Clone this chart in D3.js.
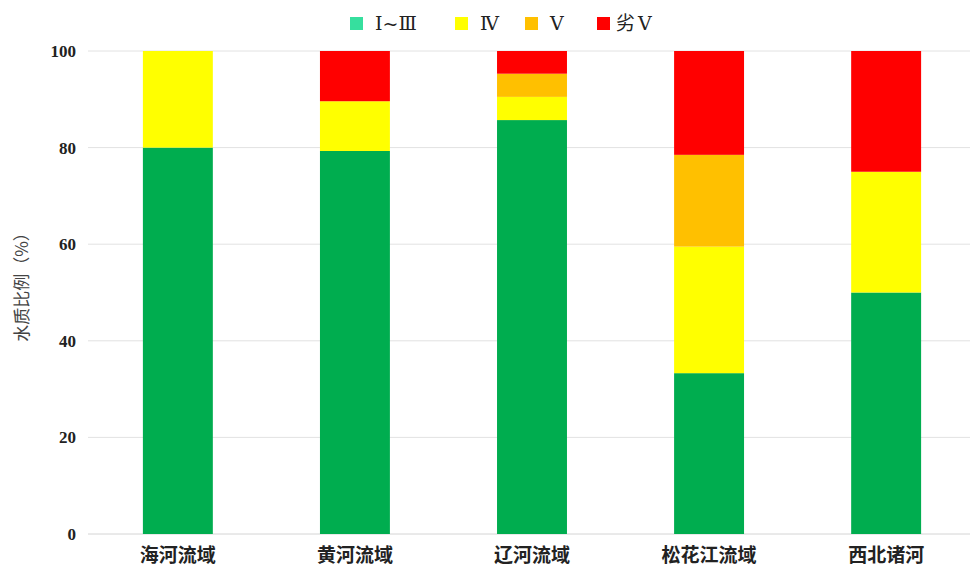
<!DOCTYPE html>
<html>
<head>
<meta charset="utf-8">
<script src="https://cdn.jsdelivr.net/npm/d3@7/dist/d3.min.js"></script>
<style>
  body { margin: 0; background: #fff; }
  svg { display: block; }
</style>
</head>
<body>
<svg id="chart" width="970" height="570"></svg>
<script>
// Stacked bar chart: water quality class share per basin.
const basins = ["海河流域", "黄河流域", "辽河流域", "松花江流域", "西北诸河"];
const classes = ["Ⅰ~Ⅲ", "Ⅳ", "Ⅴ", "劣Ⅴ"];
const grade1to3 = [80, 79.3, 85.7, 33.3, 50];
const grade4 = [20, 10.3, 4.8, 26.2, 25];
const grade5 = [0, 0, 4.8, 19.0, 0];
const grade5plus = [0, 10.4, 4.7, 21.5, 25];
const yTicks = [0, 20, 40, 60, 80, 100];

const barColors = ["#00ad4f", "#ffff00", "#ffc000", "#ff0000"];
const legendColors = ["#36df9e", "#ffff00", "#ffc000", "#ff0000"];

const svg = d3.select("#chart");
const margin = { left: 88, right: -6, top: 51, bottom: 36 };
const width = 970 - margin.left - margin.right;
const height = 570 - margin.top - margin.bottom;

const rows = basins.map((b, i) => ({
  basin: b,
  "Ⅰ~Ⅲ": grade1to3[i],
  "Ⅳ": grade4[i],
  "Ⅴ": grade5[i],
  "劣Ⅴ": grade5plus[i],
}));
const series = d3.stack().keys(classes)(rows);

const x = d3.scaleBand().domain(basins).range([0, width]).paddingInner(0.605).paddingOuter(0.31);
const y = d3.scaleLinear().domain([0, 100]).range([height, 0]);

const g = svg.append("g").attr("transform", `translate(${margin.left},${margin.top})`);

// Horizontal grid lines.
g.append("g")
  .selectAll("line")
  .data(yTicks)
  .join("line")
  .attr("x1", 0)
  .attr("x2", width)
  .attr("y1", (d) => y(d))
  .attr("y2", (d) => y(d))
  .attr("stroke", (d) => (d === 0 ? "#d4d4d4" : "#e2e2e2"))
  .attr("stroke-width", 1);

// Bars.
g.append("g")
  .selectAll("g")
  .data(series)
  .join("g")
  .attr("fill", (s, i) => barColors[i])
  .selectAll("rect")
  .data((s) => s)
  .join("rect")
  .attr("x", (d) => x(d.data.basin))
  .attr("width", x.bandwidth())
  .attr("y", (d) => y(d[1]))
  .attr("height", (d) => y(d[0]) - y(d[1]));

// Y tick labels.
const yAxis = g.append("g").call(d3.axisLeft(y).tickValues(yTicks).tickSize(0).tickPadding(12));
yAxis.select(".domain").remove();
yAxis.selectAll("text")
  .attr("font-family", "'Liberation Serif', 'Times New Roman', serif")
  .attr("font-weight", "bold")
  .attr("font-size", 17)
  .attr("fill", "#222");

// X category labels.
const xAxis = g.append("g")
  .attr("transform", `translate(0,${height})`)
  .call(d3.axisBottom(x).tickSize(0).tickPadding(15));
xAxis.select(".domain").remove();
xAxis.selectAll("text")
  .attr("font-family", "'Noto Sans CJK SC', sans-serif")
  .attr("font-weight", "bold")
  .attr("font-size", 19)
  .attr("fill", "#222");

// Y axis title.
svg.append("text")
  .attr("transform", `translate(28,${283}) rotate(-90)`)
  .attr("text-anchor", "middle")
  .attr("font-family", "'Noto Sans CJK SC', sans-serif")
  .attr("font-size", 17)
  .attr("fill", "#444")
  .text("水质比例（%）");

// Legend.
const legendX = [350, 455, 525, 597];
const legend = svg.append("g")
  .selectAll("g")
  .data(classes)
  .join("g")
  .attr("transform", (d, i) => `translate(${legendX[i]},17)`);
legend.append("rect")
  .attr("width", 13)
  .attr("height", 13)
  .attr("fill", (d, i) => legendColors[i]);
legend.append("text")
  .attr("x", (d, i) => (i === 3 ? 19 : 25))
  .attr("y", 13)
  .attr("font-family", "'DejaVu Serif', 'Noto Sans CJK SC', serif")
  .attr("font-size", 19)
  .attr("letter-spacing", (d, i) => (i === 3 ? 3 : 0))
  .attr("fill", "#222")
  .text((d) => d);
</script>
</body>
</html>
